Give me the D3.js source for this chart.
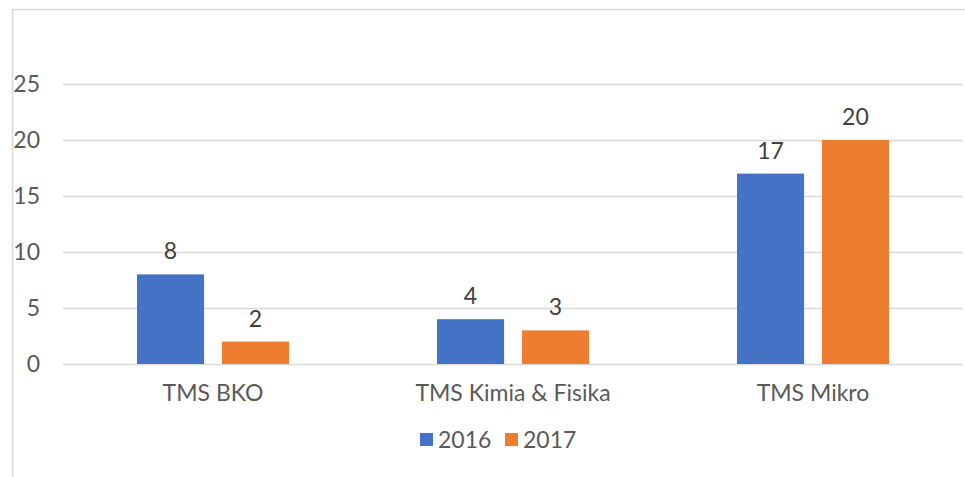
<!DOCTYPE html>
<html>
<head>
<meta charset="utf-8">
<script src="https://cdn.jsdelivr.net/npm/d3@7"></script>
<style>
  body { margin: 0; background: #fff; }
  text { font-family: Lato, "Open Sans", sans-serif; fill: #595959; }
</style>
</head>
<body>
<div id="chart"></div>
<script>
const WIDTH = 965,
    HEIGHT = 477;

const categories = ["TMS BKO", "TMS Kimia & Fisika", "TMS Mikro"];
const seriesNames = ["2016", "2017"];
const values2016 = [8, 4, 17];
const values2017 = [2, 3, 20];
const yTicks = [0, 5, 10, 15, 20, 25];
const colors = ["#4472c4", "#ed7d31"];

const margin = { top: 84, left: 63, right: 2, bottom: 113 };
const FONT = "23px";

const svg = d3.select("#chart")
    .append("svg")
    .attr("width", WIDTH)
    .attr("height", HEIGHT);

// outer frame (left + top edges visible)
svg.append("rect")
    .attr("x", 12.5)
    .attr("y", 9.5)
    .attr("width", WIDTH)
    .attr("height", HEIGHT)
    .attr("fill", "none")
    .attr("stroke", "#d9d9d9")
    .attr("stroke-width", 1.5);

const x = d3.scaleBand()
    .domain(categories)
    .range([margin.left, WIDTH - margin.right]);

const x1 = d3.scaleBand()
    .domain(seriesNames)
    .range([0, 152])
    .paddingInner(0.21);

const y = d3.scaleLinear()
    .domain([0, 25])
    .range([HEIGHT - margin.bottom, margin.top]);

// gridlines
svg.append("g")
    .selectAll("line")
    .data(yTicks)
    .join("line")
    .attr("x1", margin.left)
    .attr("x2", WIDTH - margin.right)
    .attr("y1", (d) => Math.round(y(d)) + 0.5)
    .attr("y2", (d) => Math.round(y(d)) + 0.5)
    .attr("stroke", "#d9d9d9")
    .attr("stroke-width", 1.5);

// y tick labels
svg.append("g")
    .selectAll("text")
    .data(yTicks)
    .join("text")
    .attr("x", 40)
    .attr("y", (d) => y(d))
    .attr("dy", "0.36em")
    .attr("text-anchor", "end")
    .attr("font-size", FONT)
    .text((d) => d);

const data = categories.map((c, i) => ({
    category: c,
    values: [
        { key: "2016", value: values2016[i] },
        { key: "2017", value: values2017[i] }
    ]
}));

const groups = svg.append("g")
    .selectAll("g")
    .data(data)
    .join("g")
    .attr("transform", (d) => `translate(${x(d.category) + x.bandwidth() / 2 - 76},0)`);

groups.selectAll("rect")
    .data((d) => d.values)
    .join("rect")
    .attr("x", (d) => x1(d.key))
    .attr("y", (d) => y(d.value))
    .attr("width", x1.bandwidth())
    .attr("height", (d) => y(0) - y(d.value))
    .attr("fill", (d, i) => colors[i]);

groups.selectAll("text")
    .data((d) => d.values)
    .join("text")
    .attr("x", (d) => x1(d.key) + x1.bandwidth() / 2)
    .attr("y", (d) => y(d.value) - 15)
    .attr("text-anchor", "middle")
    .attr("font-size", FONT)
    .style("fill", "#404040")
    .text((d) => d.value);

// category labels
svg.append("g")
    .selectAll("text")
    .data(categories)
    .join("text")
    .attr("x", (d) => x(d) + x.bandwidth() / 2)
    .attr("y", 401)
    .attr("text-anchor", "middle")
    .attr("font-size", FONT)
    .text((d) => d);

// legend
const legend = svg.append("g")
    .selectAll("g")
    .data(seriesNames)
    .join("g")
    .attr("transform", (d, i) => `translate(${420 + i * 85},433)`);

legend.append("rect")
    .attr("width", 13)
    .attr("height", 13)
    .attr("fill", (d, i) => colors[i]);

legend.append("text")
    .attr("x", 18)
    .attr("y", 15)
    .attr("font-size", FONT)
    .text((d) => d);
</script>
</body>
</html>
